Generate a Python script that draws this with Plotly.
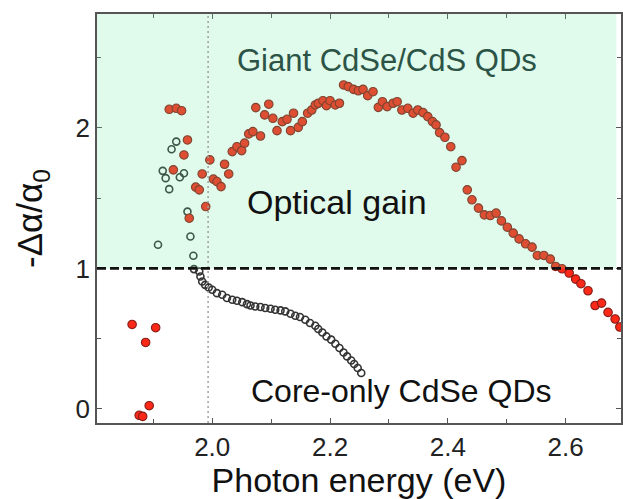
import plotly.graph_objects as go

# Giant CdSe/CdS quantum dots: normalised absorption change
giant_x = [1.864, 1.876, 1.882, 1.887, 1.893, 1.904, 1.927, 1.934, 1.939, 1.948,
           1.952, 1.958, 1.961, 1.972, 1.978, 1.983, 1.989, 1.996, 2.002, 2.008,
           2.015, 2.021, 2.028, 2.034, 2.042, 2.050, 2.055, 2.062, 2.069, 2.074,
           2.082, 2.089, 2.096, 2.103, 2.110, 2.119, 2.127, 2.133, 2.138, 2.146,
           2.153, 2.162, 2.169, 2.175, 2.180, 2.188, 2.194, 2.200, 2.209, 2.216,
           2.223, 2.231, 2.240, 2.248, 2.256, 2.264, 2.273, 2.282, 2.289, 2.297,
           2.307, 2.314, 2.322, 2.332, 2.341, 2.349, 2.358, 2.366, 2.374, 2.380,
           2.386, 2.395, 2.405, 2.414, 2.424, 2.433, 2.441, 2.452, 2.462, 2.472,
           2.482, 2.491, 2.501, 2.511, 2.521, 2.532, 2.543, 2.552, 2.563, 2.574,
           2.583, 2.594, 2.606, 2.617, 2.626, 2.638, 2.650, 2.661, 2.672, 2.684,
           2.692]
giant_y = [0.601, -0.045, -0.053, 0.473, 0.023, 0.578, 2.132, 1.701, 2.139, 2.122,
           1.807, 1.914, 1.357, 1.578, 1.559, 1.672, 1.440, 1.772, 1.635, 1.618,
           1.582, 1.741, 1.672, 1.831, 1.866, 1.838, 1.891, 1.957, 1.973, 2.144,
           1.942, 2.092, 2.168, 2.068, 1.980, 2.044, 2.061, 1.980, 2.104, 2.003,
           2.044, 2.104, 2.127, 2.163, 2.175, 2.193, 2.158, 2.193, 2.163, 2.175,
           2.305, 2.293, 2.274, 2.264, 2.274, 2.229, 2.257, 2.146, 2.186, 2.151,
           2.175, 2.186, 2.127, 2.139, 2.104, 2.127, 2.108, 2.080, 2.044, 2.021,
           1.966, 1.933, 1.866, 1.720, 1.767, 1.559, 1.488, 1.429, 1.381, 1.376,
           1.393, 1.338, 1.293, 1.251, 1.210, 1.175, 1.151, 1.092, 1.092, 1.066,
           1.014, 0.997, 0.967, 0.924, 0.891, 0.841, 0.736, 0.753, 0.687, 0.640,
           0.583]

# Core-only CdSe quantum dots
core_x = [1.908, 1.916, 1.921, 1.927, 1.931, 1.939, 1.945, 1.952, 1.958, 1.963,
          1.968, 1.969, 1.978, 1.980, 1.983, 1.988, 1.994, 2.000, 2.008, 2.017,
          2.025, 2.034, 2.042, 2.051, 2.059, 2.065, 2.073, 2.082, 2.090, 2.099,
          2.107, 2.116, 2.124, 2.133, 2.141, 2.149, 2.158, 2.166, 2.175, 2.180,
          2.187, 2.194, 2.202, 2.209, 2.216, 2.223, 2.229, 2.236, 2.241, 2.247,
          2.253]
core_y = [1.168, 1.694, 1.642, 1.564, 1.848, 1.902, 1.649, 1.677, 1.404, 1.227,
          1.090, 0.995, 0.978, 0.942, 0.907, 0.883, 0.864, 0.848, 0.824, 0.812,
          0.789, 0.777, 0.770, 0.760, 0.746, 0.736, 0.729, 0.725, 0.718, 0.713,
          0.706, 0.701, 0.694, 0.677, 0.663, 0.654, 0.635, 0.611, 0.592, 0.569,
          0.544, 0.516, 0.493, 0.464, 0.434, 0.402, 0.374, 0.345, 0.320, 0.291,
          0.256]

gain_threshold = 1.0
band_edge = 1.993
x_range = [1.8044, 2.694]
y_range = [-0.1, 2.81]

FONT = "Liberation Sans, Arial, Helvetica, sans-serif"

fig = go.Figure()

fig.add_trace(go.Scatter(
    x=core_x, y=core_y, mode="markers", name="Core-only CdSe QDs",
    marker=dict(symbol="circle-open", size=7, color="#333333",
                line=dict(width=1.6, color="#333333")),
    hoverinfo="x+y",
))
fig.add_trace(go.Scatter(
    x=giant_x, y=giant_y, mode="markers", name="Giant CdSe/CdS QDs",
    marker=dict(symbol="circle", size=8.5, color="rgb(252,40,24)",
                line=dict(width=1.1, color="rgb(135,28,22)")),
    hoverinfo="x+y",
))

# translucent green band marking the optical-gain region
fig.add_shape(type="rect", xref="x", yref="y",
              x0=x_range[0], x1=2.686, y0=gain_threshold, y1=y_range[1],
              fillcolor="rgba(100,230,155,0.20)", line=dict(width=0),
              layer="above")
# band-edge marker
fig.add_shape(type="line", xref="x", yref="paper",
              x0=band_edge, x1=band_edge, y0=0, y1=1,
              line=dict(color="#a0a0a0", width=1.5, dash="2px,3px"),
              layer="above")
# gain threshold
fig.add_shape(type="line", xref="paper", yref="y",
              x0=0, x1=1, y0=gain_threshold, y1=gain_threshold,
              line=dict(color="#111111", width=2.6, dash="9px,4px"),
              layer="above")

fig.add_annotation(x=2.297, y=2.476, text="Giant CdSe/CdS QDs", showarrow=False,
                   font=dict(family=FONT, size=31, color="#2c5446"))
fig.add_annotation(x=2.212, y=1.47, text="Optical gain", showarrow=False,
                   font=dict(family=FONT, size=34, color="#111111"))
fig.add_annotation(x=2.321, y=0.125, text="Core-only CdSe QDs", showarrow=False,
                   font=dict(family=FONT, size=32, color="#111111"))

axis_common = dict(
    showgrid=False, zeroline=False, showline=True, linecolor="#555555",
    linewidth=1.5, mirror="allticks", ticks="inside", ticklen=5,
    tickwidth=1.3, tickcolor="#555555",
    tickfont=dict(family=FONT, size=26, color="#222222"),
)

fig.update_layout(
    width=623, height=499,
    margin=dict(l=97, r=0, t=14, b=76),
    paper_bgcolor="white", plot_bgcolor="white",
    showlegend=False,
    xaxis=dict(range=x_range, tickmode="linear", tick0=1.8, dtick=0.2,
               tickformat=".1f",
               minor=dict(tickmode="linear", tick0=1.8, dtick=0.1,
                          ticks="inside", ticklen=4, tickwidth=1.3,
                          tickcolor="#555555"),
               title=dict(text="Photon energy (eV)", standoff=6,
                          font=dict(family=FONT, size=34, color="#111111")),
               **axis_common),
    yaxis=dict(range=y_range, tickmode="linear", tick0=0, dtick=1,
               minor=dict(tickmode="linear", tick0=0, dtick=0.5,
                          ticks="inside", ticklen=4, tickwidth=1.3,
                          tickcolor="#555555"),
               title=dict(text="-Δα/α<sub>0</sub>", standoff=22,
                          font=dict(family=FONT, size=35, color="#111111")),
               **axis_common),
)

fig.write_html("out.html")
